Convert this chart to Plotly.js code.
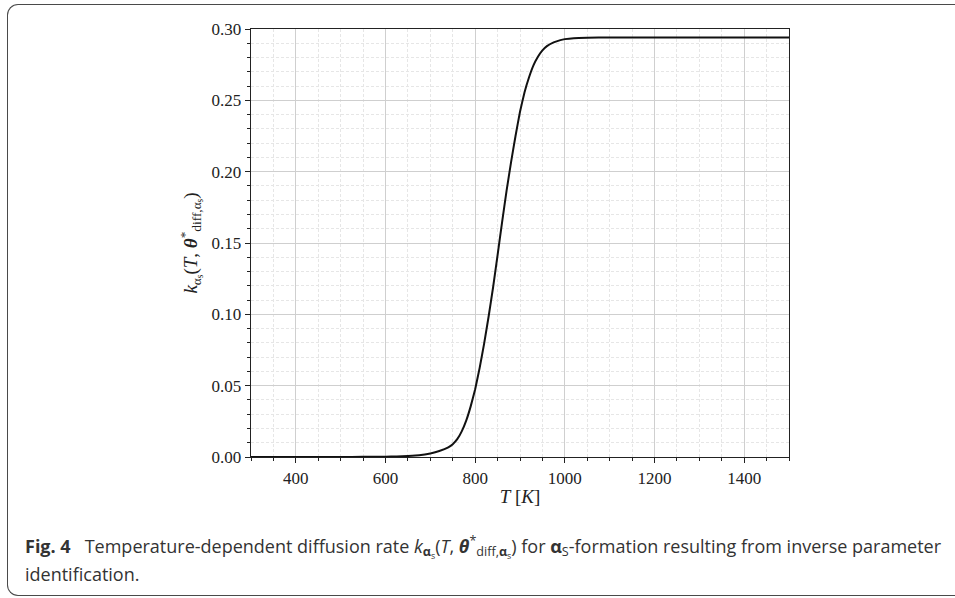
<!DOCTYPE html>
<html>
<head>
<meta charset="utf-8">
<script src="https://cdn.plot.ly/plotly-3.0.1.min.js"></script>
<style>
html,body{margin:0;padding:0;background:#fff;overflow:hidden;}
#wrap{position:relative;width:955px;height:598px;}
#frame{position:absolute;left:7px;top:4px;width:980px;height:592px;border:1.5px solid #4a4a4a;border-right:none;border-radius:11px;box-sizing:border-box;pointer-events:none;}
#chart{position:absolute;left:0;top:0;width:955px;height:598px;}
</style>
</head>
<body>
<div id="wrap"><div id="chart"></div><div id="frame"></div></div>
<script>
// Temperature T [K]
const temperature = [300, 400, 500, 550, 600, 625, 650, 675, 700, 720, 740, 750, 760, 770, 780, 790, 800, 810, 820, 830, 840, 850, 860, 870, 880, 890, 900, 910, 920, 930, 940, 950, 960, 975, 990, 1000, 1020, 1050, 1100, 1200, 1300, 1400, 1500];
// diffusion rate k
const rate = [0.0, 0.0, 0.0, 0.0001, 0.0002, 0.0004, 0.0007, 0.0012, 0.0025, 0.0042, 0.0068, 0.0090, 0.0125, 0.0180, 0.0255, 0.0355, 0.0475, 0.0625, 0.0795, 0.0985, 0.1190, 0.1415, 0.1645, 0.1865, 0.2065, 0.2250, 0.2420, 0.2555, 0.2660, 0.2745, 0.2805, 0.2850, 0.2880, 0.2906, 0.2922, 0.2929, 0.2936, 0.2939, 0.2941, 0.2941, 0.2941, 0.2941, 0.2941];
const xTicks = [400, 600, 800, 1000, 1200, 1400];
const yTicks = [0.00, 0.05, 0.10, 0.15, 0.20, 0.25, 0.30];

const W = 955, H = 598;
const M = {l: 251, r: 166, t: 29, b: 141};
const pw = W - M.l - M.r, ph = H - M.t - M.b;
const px = x => (x - M.l) / pw;
const py = y => 1 - (y - M.t) / ph;

const serif = 'Liberation Serif, DejaVu Serif, serif';
const sans = 'Open Sans, Noto Sans, sans-serif';

const trace = {
  x: temperature, y: rate, type: 'scatter', mode: 'lines',
  line: {color: '#111111', width: 2, shape: 'spline', smoothing: 0.3},
  hoverinfo: 'skip'
};

const axisCommon = {
  showline: true, linecolor: '#222', linewidth: 1.3, mirror: true,
  ticks: 'outside', ticklen: 5, tickwidth: 1, tickcolor: '#222',
  showgrid: true, gridcolor: '#cfcfcf', gridwidth: 1,
  zeroline: false,
  tickfont: {family: serif, size: 17, color: '#222'}
};

const minorCommon = {showgrid: true, gridcolor: '#e6e6e6', griddash: '3px,2px', gridwidth: 1, ticks: 'outside', ticklen: 3, tickcolor: '#222'};

const layout = {
  width: W, height: H,
  margin: M,
  paper_bgcolor: 'rgba(0,0,0,0)', plot_bgcolor: '#fff',
  showlegend: false,
  xaxis: Object.assign({}, axisCommon, {
    range: [300, 1500], tickvals: xTicks, ticktext: xTicks.map(String),
    minor: Object.assign({dtick: 50, tick0: 0}, minorCommon),
    title: {text: '<i>T</i> [<i>K</i>]', font: {family: serif, size: 19, color: '#222'}, standoff: 3}
  }),
  yaxis: Object.assign({}, axisCommon, {
    range: [0, 0.30], tickvals: yTicks, ticktext: yTicks.map(v => v.toFixed(2)),
    minor: Object.assign({dtick: 0.01, tick0: 0}, minorCommon),
    title: {text: '<i>k</i><sub>α<sub>s</sub></sub>(<i>T</i>, <b><i>θ</i></b><sup>*</sup><sub>diff,α<sub>s</sub></sub>)', font: {family: serif, size: 19, color: '#222'}, standoff: 9}
  }),
  annotations: [
    {
      xref: 'paper', yref: 'paper', x: px(23), y: py(547), xanchor: 'left', yanchor: 'middle', showarrow: false, align: 'left',
      text: '<b>Fig. 4</b>   Temperature-dependent diffusion rate <i>k</i><sub><b>α</b><sub>s</sub></sub>(<i>T</i>, <b><i>θ</i></b><sup>*</sup><sub>diff,<b>α</b><sub>s</sub></sub>) for <b>α</b><sub>S</sub>-formation resulting from inverse parameter',
      font: {family: sans, size: 18, color: '#333'}
    },
    {
      xref: 'paper', yref: 'paper', x: px(23), y: py(574), xanchor: 'left', yanchor: 'middle', showarrow: false, align: 'left',
      text: 'identification.',
      font: {family: sans, size: 18, color: '#333'}
    }
  ]
};

Plotly.newPlot('chart', [trace], layout, {staticPlot: true, displayModeBar: false});
</script>
</body>
</html>
